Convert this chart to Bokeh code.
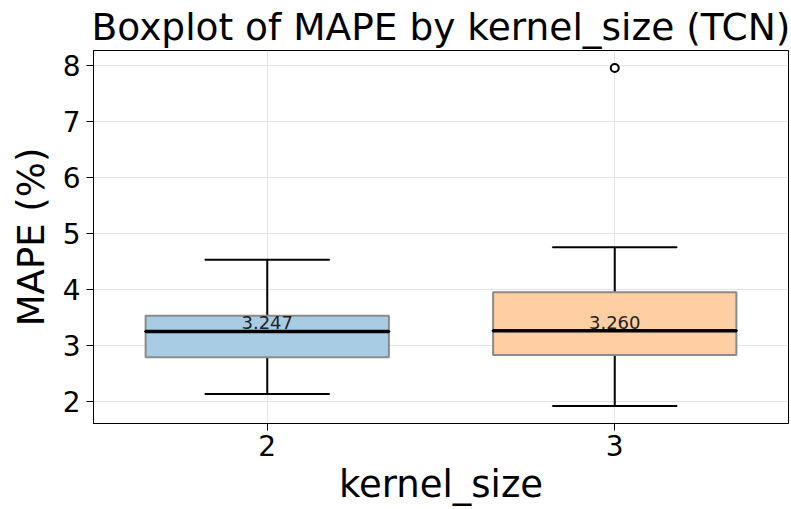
from bokeh.plotting import figure
from bokeh.models import ColumnDataSource, FixedTicker, Range1d
from bokeh.core.properties import value
from bokeh.embed import file_html
from bokeh.resources import INLINE

# data
categories = ["2", "3"]
positions = [1, 2]
q1 = [2.785, 2.826]
q3 = [3.528, 3.944]
medians = [3.247, 3.260]
whisker_low = [2.13, 1.916]
whisker_high = [4.527, 4.751]
outlier_pos = [2]
outlier_vals = [7.95]
fill_colors = ["#a8cce4", "#ffcfa3"]

FONT = "DejaVu Sans"

p = figure(width=791, height=509, output_backend="svg", toolbar_location=None,
           x_range=Range1d(0.5, 2.5), y_range=Range1d(1.602, 8.264),
           min_border_left=93, min_border_right=3, min_border_bottom=86,
           min_border_top=50,
           title="Boxplot of MAPE by kernel_size (TCN)")
p.styles = {"position": "absolute", "top": "0px", "left": "0px"}

p.title.text_font = FONT
p.title.text_font_size = "37.5px"
p.title.text_font_style = "normal"
p.title.align = "center"
p.title.text_color = "#000000"
p.title.standoff = 4
p.title.offset = 0

box_w = 0.70
cap_w = 0.357
src = ColumnDataSource(dict(x=positions, q1=q1, q3=q3, med=medians, lo=whisker_low,
                            hi=whisker_high, color=fill_colors,
                            label=["%.3f" % m for m in medians]))

# whiskers
p.segment(x0="x", y0="q3", x1="x", y1="hi", source=src, line_color="black", line_width=2)
p.segment(x0="x", y0="lo", x1="x", y1="q1", source=src, line_color="black", line_width=2)
# caps
p.rect(x="x", y="hi", width=cap_w, height=0.0001, source=src, fill_alpha=0,
       line_color="black", line_width=2)
p.rect(x="x", y="lo", width=cap_w, height=0.0001, source=src, fill_alpha=0,
       line_color="black", line_width=2)
# boxes
p.vbar(x="x", width=box_w, bottom="q1", top="q3", source=src, fill_color="color",
       line_color="#8a8a8a", line_width=2)
# medians
p.rect(x="x", y="med", width=box_w, height=0.0001, source=src, fill_alpha=0,
       line_color="black", line_width=3.5)
# median labels
p.text(x="x", y="med", text="label", source=src, text_align="center",
       text_baseline="bottom", y_offset=-2, text_font=value(FONT),
       text_font_size="18px", text_color="#222222")
# outliers
p.scatter(x=outlier_pos, y=outlier_vals, marker="circle", size=8, fill_color="white",
          line_color="black", line_width=2)

# axes
p.xaxis.ticker = FixedTicker(ticks=positions)
p.xaxis.major_label_overrides = {pos: c for pos, c in zip(positions, categories)}
p.yaxis.ticker = FixedTicker(ticks=[2, 3, 4, 5, 6, 7, 8])
for ax in (p.xaxis[0], p.yaxis[0]):
    ax.major_label_text_font = FONT
    ax.major_label_text_font_size = "28px"
    ax.major_label_text_color = "#000000"
    ax.axis_label_text_font = FONT
    ax.axis_label_text_font_size = "37px"
    ax.axis_label_text_font_style = "normal"
    ax.axis_label_text_color = "#000000"
    ax.axis_line_color = "black"
    ax.axis_line_width = 1
    ax.major_tick_line_color = "black"
    ax.major_tick_out = 7
    ax.major_tick_in = 0
    ax.minor_tick_line_color = None
p.xaxis.axis_label = "kernel_size"
p.yaxis.axis_label = "MAPE (%)"
p.xaxis.major_label_standoff = 4
p.yaxis.major_label_standoff = 6
p.xaxis.axis_label_standoff = 4
p.yaxis.axis_label_standoff = 7

p.xgrid.ticker = FixedTicker(ticks=positions)
p.grid.grid_line_color = "#dddddd"
p.grid.grid_line_alpha = 0.8
p.outline_line_color = "black"
p.outline_line_width = 1
p.outline_line_alpha = 1
p.background_fill_color = "white"
p.border_fill_color = "white"

open("out.html", "w").write(file_html(p, INLINE))
